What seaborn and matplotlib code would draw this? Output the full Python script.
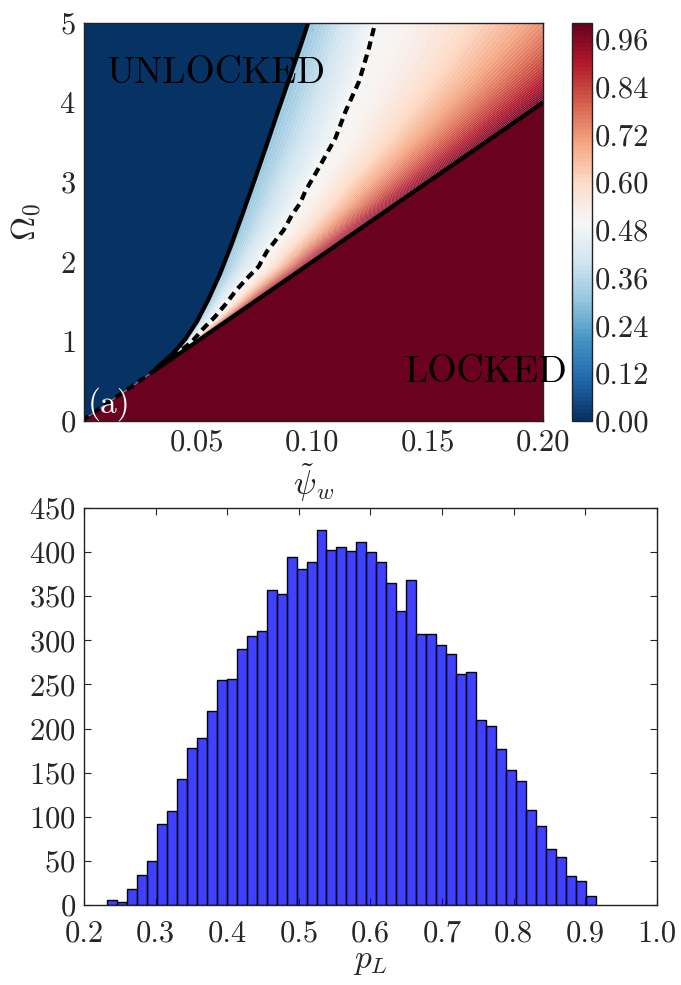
import numpy as np
import pandas as pd
import matplotlib
matplotlib.use("Agg")
import matplotlib.pyplot as plt
from matplotlib.ticker import FormatStrFormatter
import seaborn as sns

# ---- phase diagram data -------------------------------------------------
# slope of the locking boundary  Omega_0 = lock_slope * psi_w
lock_slope = 20.0
# unlocking boundary (solid curve), read as (psi_w, Omega_0) pairs
unlock_psi = [0.0302, 0.035, 0.040, 0.045, 0.050, 0.055, 0.060, 0.065,
              0.070, 0.075, 0.080, 0.085, 0.090, 0.095, 0.0982, 0.1002]
unlock_omega = [0.604, 0.73, 0.86, 1.03, 1.25, 1.53, 1.85, 2.22,
                2.62, 3.03, 3.45, 3.88, 4.30, 4.72, 5.00, 5.17]
# p_L = 0.5 contour (dashed curve)
half_psi = [0.0, 0.0302, 0.0476, 0.0527, 0.0578, 0.0622, 0.0672, 0.0716, 0.0767,
            0.0803, 0.0876, 0.0912, 0.0948, 0.0970, 0.1028, 0.1101, 0.1144,
            0.1203, 0.1246, 0.1268, 0.1275]
half_omega = [0.0, 0.604, 0.99, 1.16, 1.31, 1.46, 1.65, 1.79, 1.94,
              2.13, 2.40, 2.59, 2.74, 2.89, 3.18, 3.56, 3.89,
              4.27, 4.69, 4.95, 5.00]
# p_L just inside the unlocking boundary
edge_p = 0.30

# ---- histogram data ------------------------------------------------------
pl_lo, pl_hi = 0.2325, 0.9142
pl_counts = [6, 3, 18, 34, 50, 92, 107, 143, 178, 189, 220, 255, 256, 290, 305,
             311, 357, 353, 395, 381, 389, 425, 402, 406, 401, 411, 400, 389,
             365, 333, 369, 307, 307, 295, 284, 262, 264, 210, 203, 177, 153,
             141, 108, 90, 64, 54, 33, 27, 10]

cbar_ticks = [0.00, 0.12, 0.24, 0.36, 0.48, 0.60, 0.72, 0.84, 0.96]
hist_xticks = [0.2, 0.3, 0.4, 0.5, 0.6, 0.7, 0.8, 0.9, 1.0]
hist_yticks = [0, 50, 100, 150, 200, 250, 300, 350, 400, 450]

sns.set_style("ticks")
plt.rcParams.update({
    "font.family": "cmr10",
    "mathtext.fontset": "cm",
    "axes.formatter.use_mathtext": True,
    "axes.unicode_minus": False,
    "xtick.direction": "in",
    "ytick.direction": "in",
    "xtick.top": True,
    "ytick.right": True,
    "xtick.major.size": 5,
    "ytick.major.size": 5,
    "axes.linewidth": 1.0,
    "axes.edgecolor": "#222222",
    "font.size": 22,
})

fig = plt.figure(figsize=(6.81, 9.85), dpi=100)
ax = fig.add_axes([0.1233, 0.5726, 0.674, 0.404])
cax = fig.add_axes([0.840, 0.5726, 0.0294, 0.404])
ax2 = fig.add_axes([0.1233, 0.0812, 0.8414, 0.403])

# ---- locking probability field -----------------------------------------
psi = np.linspace(0.001, 0.2, 700)
om = np.linspace(0.0, 5.0, 700)
P, O = np.meshgrid(psi, om)
psi_u = np.interp(O, unlock_omega, unlock_psi)
psi_d = np.interp(O, half_omega, half_psi)
psi_l = O / lock_slope

Z = np.zeros_like(P)
Z[P >= psi_l] = 1.0
band = (P > psi_u) & (P < psi_l)
with np.errstate(divide="ignore", invalid="ignore"):
    left = band & (P <= psi_d)
    right = band & (P > psi_d)
    Z[left] = (edge_p + (0.5 - edge_p) * (P - psi_u) / (psi_d - psi_u))[left]
    Z[right] = (0.5 + 0.5 * ((P - psi_d) / (psi_l - psi_d)) ** 1.5)[right]
Z = np.clip(np.nan_to_num(Z), 0, 1)

cs = ax.contourf(P, O, Z, levels=np.linspace(0, 1, 101), cmap="RdBu_r",
                 vmin=0, vmax=1, antialiased=True)

# boundaries
psi_int = unlock_psi[0]
lock_x = np.array([psi_int, 0.2])
ax.plot(lock_x, lock_slope * lock_x, color="black", lw=3, solid_capstyle="butt")
ax.plot(unlock_psi, unlock_omega, color="black", lw=3)
ax.plot(half_psi, half_omega, color="black", lw=3, ls=(0, (2.0, 1.3)))

ax.set_xlim(0.001, 0.2)
ax.set_ylim(0, 5)
ax.set_xticks([0.05, 0.10, 0.15, 0.20])
ax.xaxis.set_major_formatter(FormatStrFormatter("%.2f"))
ax.set_yticks([0, 1, 2, 3, 4, 5])
ax.set_xlabel(r"$\tilde{\psi}_w$", fontsize=24, labelpad=4)
ax.set_ylabel(r"$\Omega_0$", fontsize=24, labelpad=12)
ax.tick_params(labelsize=22, pad=6)

ax.text(0.05, 0.849, "UNLOCKED", transform=ax.transAxes, fontsize=27,
        va="baseline", ha="left", color="black")
ax.text(0.70, 0.099, "LOCKED", transform=ax.transAxes, fontsize=27,
        va="baseline", ha="left", color="black", clip_on=False)
ax.text(0.008, 0.0, "(a)", transform=ax.transAxes, fontsize=24,
        va="bottom", ha="left", color="white")

cb = fig.colorbar(cs, cax=cax, ticks=cbar_ticks)
cb.ax.yaxis.set_major_formatter(FormatStrFormatter("%.2f"))
cb.ax.tick_params(labelsize=22, direction="in", length=5, pad=2)
cb.outline.set_linewidth(1.0)

# ---- histogram of p_L ----------------------------------------------------
edges = np.linspace(pl_lo, pl_hi, len(pl_counts) + 1)
hist_df = pd.DataFrame({
    "pL": 0.5 * (edges[:-1] + edges[1:]),
    "count": pl_counts,
})
sns.histplot(data=hist_df, x="pL", weights="count", bins=list(edges),
             color=(0, 0, 1), alpha=0.75, edgecolor="black", linewidth=1.0,
             ax=ax2)
ax2.set_xlim(0.2, 1.0)
ax2.set_ylim(0, 450)
ax2.set_xticks(hist_xticks)
ax2.xaxis.set_major_formatter(FormatStrFormatter("%.1f"))
ax2.set_yticks(hist_yticks)
ax2.set_ylabel("")
ax2.set_xlabel(r"$p_L$", fontsize=24, labelpad=0)
ax2.tick_params(axis="y", labelsize=22, pad=6)
ax2.tick_params(axis="x", labelsize=22, pad=11)
for s in ax2.spines.values():
    s.set_visible(True)

fig.savefig("out.png", dpi=100)
